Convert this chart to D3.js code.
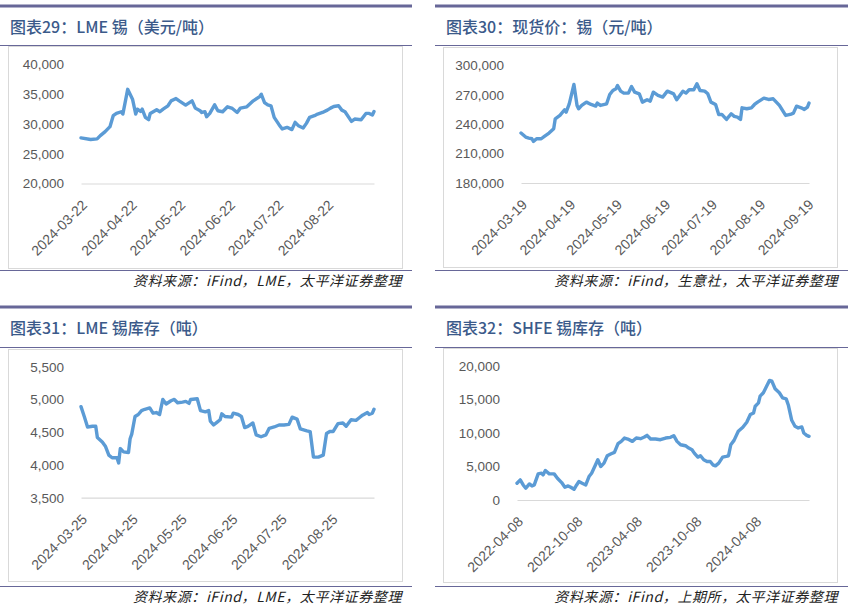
<!DOCTYPE html>
<html><head><meta charset="utf-8">
<script src="https://cdn.jsdelivr.net/npm/d3@7"></script>
<style>body{margin:0;background:#fff} svg{display:block}</style>
</head><body>
<svg id="c" width="848" height="607"></svg>
<script>
// ---------------- DATA ----------------
const title1 = "图表29：LME 锡（美元/吨）";
const source1 = "资料来源：iFind，LME，太平洋证券整理";
const p1YTicks = [20000, 25000, 30000, 35000, 40000];
const p1XTicks = ["2024-03-22","2024-04-22","2024-05-22","2024-06-22","2024-07-22","2024-08-22"];
const p1Dates = ["2024-03-22","2024-03-28","2024-04-01","2024-04-03","2024-04-06","2024-04-09","2024-04-11","2024-04-13","2024-04-16","2024-04-17","2024-04-20","2024-04-23","2024-04-25","2024-04-26","2024-04-28","2024-04-29","2024-05-01","2024-05-03","2024-05-04","2024-05-08","2024-05-10","2024-05-12","2024-05-15","2024-05-17","2024-05-20","2024-05-22","2024-05-26","2024-05-30","2024-06-01","2024-06-04","2024-06-05","2024-06-07","2024-06-08","2024-06-10","2024-06-13","2024-06-15","2024-06-18","2024-06-21","2024-06-24","2024-06-27","2024-06-29","2024-07-03","2024-07-07","2024-07-11","2024-07-12","2024-07-14","2024-07-16","2024-07-18","2024-07-20","2024-07-23","2024-07-25","2024-07-28","2024-07-31","2024-08-02","2024-08-04","2024-08-07","2024-08-09","2024-08-11","2024-08-14","2024-08-16","2024-08-19","2024-08-22","2024-08-24","2024-08-26","2024-08-29","2024-08-31","2024-09-02","2024-09-06","2024-09-08","2024-09-12","2024-09-15","2024-09-17","2024-09-19","2024-09-20"];
const p1Values = [27670,27390,27500,28050,28720,29550,31390,31780,32060,31670,35830,34170,31670,32500,32110,32500,31110,30720,31780,32390,32060,32500,33060,33890,34280,33890,33170,33890,32670,32220,31940,32060,31220,31780,33220,32220,32060,32890,32610,31940,32670,32890,33890,34610,35000,33610,33220,33060,31110,29890,29170,29440,29060,30280,29720,29330,30110,31110,31390,31670,31940,32330,32670,32940,33060,32330,32060,30440,30830,30720,31780,31780,31500,32110];

const title2 = "图表30：现货价：锡（元/吨）";
const source2 = "资料来源：iFind，生意社，太平洋证券整理";
const p2YTicks = [180000, 210000, 240000, 270000, 300000];
const p2XTicks = ["2024-03-19","2024-04-19","2024-05-19","2024-06-19","2024-07-19","2024-08-19","2024-09-19"];
const p2Dates = ["2024-03-19","2024-03-22","2024-03-24","2024-03-26","2024-03-27","2024-03-29","2024-04-01","2024-04-03","2024-04-06","2024-04-09","2024-04-10","2024-04-13","2024-04-16","2024-04-17","2024-04-19","2024-04-22","2024-04-24","2024-04-25","2024-04-27","2024-04-30","2024-05-03","2024-05-06","2024-05-07","2024-05-09","2024-05-13","2024-05-15","2024-05-17","2024-05-19","2024-05-20","2024-05-22","2024-05-24","2024-05-27","2024-05-29","2024-05-31","2024-06-03","2024-06-05","2024-06-08","2024-06-10","2024-06-12","2024-06-15","2024-06-18","2024-06-21","2024-06-24","2024-06-25","2024-06-27","2024-06-29","2024-07-01","2024-07-03","2024-07-05","2024-07-08","2024-07-10","2024-07-12","2024-07-15","2024-07-17","2024-07-19","2024-07-22","2024-07-24","2024-07-26","2024-07-29","2024-08-01","2024-08-03","2024-08-05","2024-08-07","2024-08-08","2024-08-11","2024-08-14","2024-08-16","2024-08-18","2024-08-22","2024-08-25","2024-08-28","2024-08-30","2024-09-01","2024-09-03","2024-09-05","2024-09-08","2024-09-10","2024-09-12","2024-09-15","2024-09-17","2024-09-19","2024-09-20"];
const p2Values = [231000,226900,225900,225200,222500,225200,225200,227600,231000,235400,245600,249000,254800,252400,260900,280600,259200,255800,259200,262600,260200,258500,261600,259200,260900,270400,274500,276200,279600,273800,271800,271800,278600,272800,271100,262600,265000,263600,272800,269400,267700,273800,271800,271100,265000,269400,273800,271800,275200,275200,281300,274500,273800,271100,262600,260200,250000,250000,244900,250700,248000,247300,244900,256800,255800,256800,260200,262600,266700,265300,266000,262600,259200,254100,249000,250000,251400,258500,256800,255100,257500,261600];

const title3 = "图表31：LME 锡库存（吨）";
const source3 = "资料来源：iFind，LME，太平洋证券整理";
const p3YTicks = [3500, 4000, 4500, 5000, 5500];
const p3XTicks = ["2024-03-25","2024-04-25","2024-05-25","2024-06-25","2024-07-25","2024-08-25"];
const p3Dates = ["2024-03-25","2024-03-27","2024-03-29","2024-04-01","2024-04-03","2024-04-04","2024-04-07","2024-04-09","2024-04-11","2024-04-13","2024-04-15","2024-04-16","2024-04-17","2024-04-18","2024-04-20","2024-04-23","2024-04-24","2024-04-25","2024-04-27","2024-04-29","2024-05-01","2024-05-03","2024-05-06","2024-05-08","2024-05-10","2024-05-12","2024-05-14","2024-05-16","2024-05-19","2024-05-21","2024-05-23","2024-05-26","2024-05-28","2024-05-30","2024-05-31","2024-06-04","2024-06-06","2024-06-09","2024-06-11","2024-06-12","2024-06-14","2024-06-16","2024-06-18","2024-06-19","2024-06-21","2024-06-25","2024-06-26","2024-06-29","2024-07-01","2024-07-03","2024-07-05","2024-07-08","2024-07-10","2024-07-13","2024-07-16","2024-07-18","2024-07-21","2024-07-24","2024-07-27","2024-07-30","2024-08-01","2024-08-04","2024-08-06","2024-08-10","2024-08-12","2024-08-14","2024-08-17","2024-08-20","2024-08-22","2024-08-24","2024-08-26","2024-08-29","2024-09-01","2024-09-03","2024-09-06","2024-09-09","2024-09-11","2024-09-13","2024-09-16","2024-09-17","2024-09-19","2024-09-20"];
const p3Values = [4890,4740,4580,4590,4590,4420,4350,4280,4150,4110,4110,4110,4030,4250,4200,4190,4400,4470,4740,4770,4830,4850,4870,4790,4800,4770,5000,4930,4980,5000,4950,4960,4970,4940,5000,5010,4830,4810,4830,4670,4610,4650,4690,4780,4740,4730,4790,4770,4740,4570,4590,4640,4460,4430,4460,4560,4580,4610,4610,4620,4730,4700,4550,4520,4510,4120,4120,4150,4480,4510,4510,4630,4640,4590,4690,4680,4720,4760,4800,4770,4790,4850];

const title4 = "图表32：SHFE 锡库存（吨）";
const source4 = "资料来源：iFind，上期所，太平洋证券整理";
const p4YTicks = [0, 5000, 10000, 15000, 20000];
const p4XTicks = ["2022-04-08","2022-10-08","2023-04-08","2023-10-08","2024-04-08"];
const p4Dates = ["2022-04-08","2022-04-18","2022-04-27","2022-05-05","2022-05-16","2022-05-24","2022-05-31","2022-06-12","2022-06-22","2022-06-27","2022-07-04","2022-07-16","2022-07-31","2022-08-10","2022-08-23","2022-09-02","2022-09-12","2022-09-20","2022-09-30","2022-10-08","2022-10-15","2022-10-25","2022-11-05","2022-11-15","2022-11-23","2022-12-05","2022-12-12","2022-12-21","2022-12-31","2023-01-10","2023-01-22","2023-02-01","2023-02-12","2023-02-22","2023-03-04","2023-03-14","2023-03-28","2023-04-09","2023-04-22","2023-05-04","2023-05-12","2023-05-23","2023-06-07","2023-06-22","2023-07-08","2023-07-23","2023-08-02","2023-08-12","2023-08-23","2023-09-07","2023-09-17","2023-09-27","2023-10-04","2023-10-15","2023-10-23","2023-11-02","2023-11-12","2023-11-22","2023-11-30","2023-12-08","2023-12-18","2023-12-30","2024-01-10","2024-01-17","2024-01-24","2024-02-03","2024-02-16","2024-03-01","2024-03-13","2024-03-24","2024-04-03","2024-04-08","2024-04-18","2024-04-23","2024-05-03","2024-05-14","2024-05-22","2024-05-29","2024-06-08","2024-06-21","2024-07-01","2024-07-12","2024-07-19","2024-07-29","2024-08-08","2024-08-18","2024-08-29","2024-09-04","2024-09-13","2024-09-20"];
const p4Values = [2500,3000,2250,1750,2400,2100,2250,3900,4000,3750,4400,3900,3900,3250,2600,1900,2100,1900,1600,2250,2750,2500,2250,3500,4000,5250,6000,5000,5500,6600,6900,7100,8400,8750,9250,9100,8750,9250,9150,9400,9650,9100,9100,9000,9250,9350,9600,8750,8250,8100,7750,7500,7000,6400,6600,6000,5750,5750,5250,5100,5500,6400,6500,6600,8250,8900,10250,10850,11600,12750,13000,14000,14500,15500,16000,17100,17850,17750,16600,16000,15250,15100,14100,11900,11000,10750,10900,10000,9650,9500];

// ---------------- LAYOUT / STYLE ----------------
const BAR = "#676798", TITLE = "#3b5a8a", LINE = "#5b9bd5", GRID = "#d9d9d9", AX = "#595959";
const parse = d3.timeParse("%Y-%m-%d");
const fmt = d3.timeFormat("%Y-%m-%d");
const svg = d3.select("#c");

const panels = [
  {title: title1, source: source1, dates: p1Dates, values: p1Values, yTicks: p1YTicks, xTicks: p1XTicks,
   L: {bar:[0,412], barY:6, titleX:10, titleY:33, ruleY:45.5, box:[8.5,46.5,394,222], botY:270.5, srcX:402, srcY:286,
       plotX:[81,374], plotY:[183.5,64.5]}},
  {title: title2, source: source2, dates: p2Dates, values: p2Values, yTicks: p2YTicks, xTicks: p2XTicks,
   L: {bar:[435,848], barY:6, titleX:446, titleY:33, ruleY:45.5, box:[443.5,47.5,394,220], botY:270.5, srcX:838, srcY:286,
       plotX:[521,809], plotY:[183,65.5]}},
  {title: title3, source: source3, dates: p3Dates, values: p3Values, yTicks: p3YTicks, xTicks: p3XTicks,
   L: {bar:[0,412], barY:307, titleX:10, titleY:334, ruleY:347.5, box:[8.5,349.5,394,232], botY:586.5, srcX:402, srcY:602,
       plotX:[81,374], plotY:[497.7,366.7]}},
  {title: title4, source: source4, dates: p4Dates, values: p4Values, yTicks: p4YTicks, xTicks: p4XTicks,
   L: {bar:[435,848], barY:307, titleX:446, titleY:334, ruleY:347.5, box:[443.5,348.5,394,234], botY:586.5, srcX:838, srcY:602,
       plotX:[517,809], plotY:[500,366]}}
];

function drawPanel(p) {
  const L = p.L;
  const g = svg.append("g");
  g.append("line").attr("x1", L.bar[0]).attr("x2", L.bar[1]).attr("y1", L.barY).attr("y2", L.barY)
    .attr("stroke", BAR).attr("stroke-width", 3);
  g.append("text").attr("x", L.titleX).attr("y", L.titleY).text(p.title)
    .attr("fill", TITLE).attr("font-family", "'Noto Sans CJK SC', sans-serif").attr("font-size", 16).attr("font-weight", 500);
  g.append("line").attr("x1", L.bar[0]).attr("x2", L.bar[1]).attr("y1", L.ruleY).attr("y2", L.ruleY)
    .attr("stroke", BAR).attr("stroke-width", 1);
  g.append("rect").attr("x", L.box[0]).attr("y", L.box[1]).attr("width", L.box[2]).attr("height", L.box[3])
    .attr("fill", "none").attr("stroke", GRID).attr("stroke-width", 1);
  g.append("line").attr("x1", L.bar[0]).attr("x2", L.bar[1]).attr("y1", L.botY).attr("y2", L.botY)
    .attr("stroke", BAR).attr("stroke-width", 1.2);
  g.append("text").attr("x", L.srcX).attr("y", L.srcY).text(p.source).attr("text-anchor", "end")
    .attr("fill", "#222").attr("font-family", "'Noto Sans CJK SC', sans-serif").attr("font-size", 14)
    .attr("letter-spacing", 0.6).attr("font-style", "italic");

  const dates = p.dates.map(parse);
  const x = d3.scaleTime().domain(d3.extent(dates)).range(L.plotX);
  const y = d3.scaleLinear().domain(d3.extent(p.yTicks)).range(L.plotY);

  const xa = g.append("g").attr("transform", `translate(0,${L.plotY[0]})`)
    .call(d3.axisBottom(x).tickValues(p.xTicks.map(parse)).tickSize(0).tickSizeOuter(0).tickFormat(fmt));
  xa.select(".domain").attr("stroke", GRID).attr("stroke-width", 1.2);
  xa.selectAll("text").attr("x", 0).attr("y", 0).attr("dy", "0.35em")
    .attr("transform", "translate(3,19) rotate(-45)").attr("text-anchor", "end")
    .attr("fill", AX).attr("font-family", "'Liberation Sans', Arial, sans-serif").attr("font-size", 14);

  const ya = g.append("g").attr("transform", `translate(${L.plotX[0]},0)`)
    .call(d3.axisLeft(y).tickValues(p.yTicks).tickSize(0).tickPadding(17).tickFormat(d3.format(",")));
  ya.select(".domain").remove();
  ya.selectAll("text").attr("fill", AX).attr("font-family", "'Liberation Sans', Arial, sans-serif").attr("font-size", 13.5);

  const n = Math.min(dates.length, p.values.length);
  const pts = d3.range(n).map(i => [dates[i], p.values[i]]);
  g.append("path").datum(pts)
    .attr("d", d3.line().x(d => x(d[0])).y(d => y(d[1])))
    .attr("fill", "none").attr("stroke", LINE).attr("stroke-width", 3.4)
    .attr("stroke-linejoin", "round").attr("stroke-linecap", "round");
}
panels.forEach(drawPanel);
</script>
</body></html>
